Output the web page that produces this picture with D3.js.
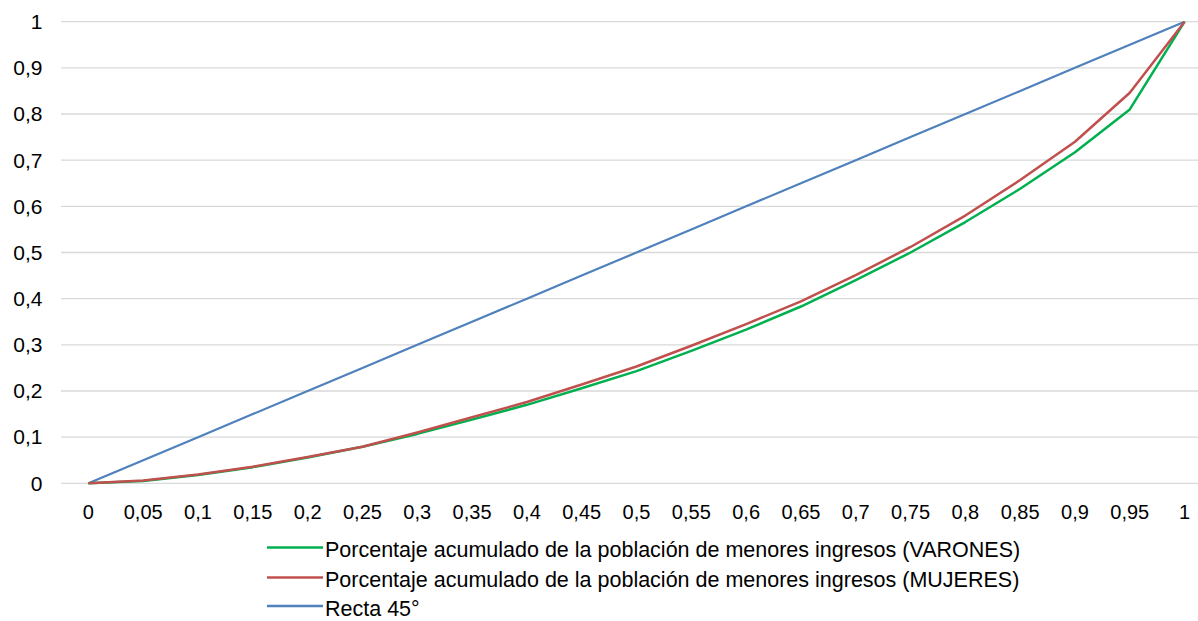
<!DOCTYPE html>
<html><head><meta charset="utf-8">
<script src="https://cdn.jsdelivr.net/npm/d3@7"></script>
<style>
body{margin:0;background:#fff;}
svg text{font-family:"Liberation Sans",Arial,Helvetica,sans-serif;fill:#000;}
</style></head>
<body><svg id="c" width="1198" height="621"></svg>
<script>
const categories = ["0","0,05","0,1","0,15","0,2","0,25","0,3","0,35","0,4","0,45","0,5","0,55","0,6","0,65","0,7","0,75","0,8","0,85","0,9","0,95","1"];
const varones = [0,0.005,0.018,0.035,0.056,0.079,0.107,0.138,0.170,0.206,0.243,0.287,0.333,0.383,0.440,0.500,0.566,0.638,0.717,0.810,1];
const mujeres = [0,0.006,0.019,0.036,0.057,0.079,0.110,0.143,0.176,0.214,0.253,0.298,0.345,0.394,0.451,0.512,0.580,0.657,0.740,0.846,1];
const recta = [0,0.05,0.1,0.15,0.2,0.25,0.3,0.35,0.4,0.45,0.5,0.55,0.6,0.65,0.7,0.75,0.8,0.85,0.9,0.95,1];
const yTicks = [0,0.1,0.2,0.3,0.4,0.5,0.6,0.7,0.8,0.9,1];
const seriesNames = ["Porcentaje acumulado de la población de menores ingresos (VARONES)","Porcentaje acumulado de la población de menores ingresos (MUJERES)","Recta 45°"];
const colors = ["#00B050","#C0504D","#4F81BD"];

(function(){
const svg = d3.select("#c");
const pLeft = 61, pRight = 1212, pTop = 21.7, pBottom = 483.3;
const x = d3.scalePoint().domain(categories).range([pLeft,pRight]).padding(0.5);
const y = d3.scaleLinear().domain([0,1]).range([pBottom,pTop]);

svg.append("g").selectAll("line").data(yTicks).join("line")
  .attr("x1",pLeft).attr("x2",1198).attr("y1",d=>y(d)).attr("y2",d=>y(d))
  .attr("stroke","#D9D9D9").attr("stroke-width",1.3);

const fmt = d => String(d).replace(".",",");
svg.append("g").selectAll("text").data(yTicks).join("text")
  .attr("x",42.5).attr("y",d=>y(d)).attr("dy","0.35em").attr("text-anchor","end")
  .attr("font-size",21).text(fmt);

svg.append("g").selectAll("text").data(categories).join("text")
  .attr("x",d=>x(d)).attr("y",511.5).attr("dy","0.35em").attr("text-anchor","middle")
  .attr("font-size",20).text(d=>d);

const line = d3.line().x((d,i)=>x(categories[i])).y(d=>y(d));
const data = [varones, mujeres, recta];
const widths = [2.5,2.5,2.2];
[2,0,1].forEach(k=>{
  svg.append("path").datum(data[k]).attr("d",line).attr("fill","none")
    .attr("stroke",colors[k]).attr("stroke-width",widths[k]).attr("stroke-linejoin","round");
});

const lg = svg.append("g");
const rows = [547.5,577.5,606];
seriesNames.forEach((n,i)=>{
  lg.append("line").attr("x1",267).attr("x2",323).attr("y1",rows[i]).attr("y2",rows[i])
    .attr("stroke",colors[i]).attr("stroke-width",2.5);
  lg.append("text").attr("x",325).attr("y",rows[i]+2).attr("dy","0.35em").attr("font-size",21.5).text(n);
});
})();
</script></body></html>
